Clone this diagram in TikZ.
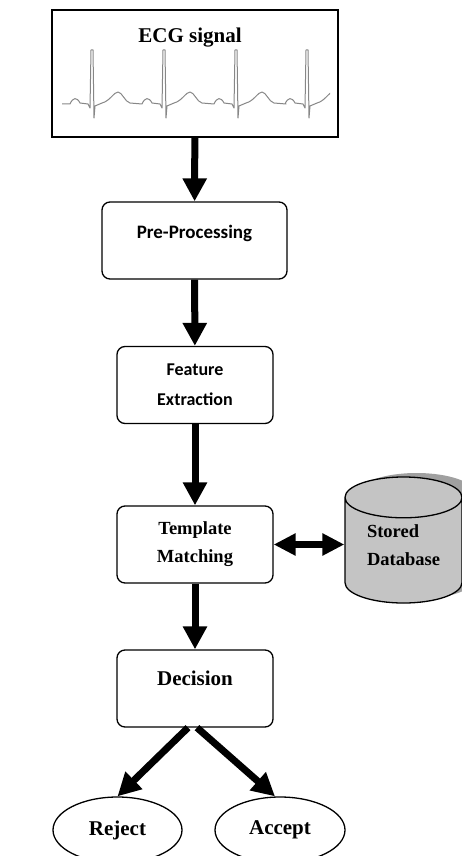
\documentclass[tikz,border=0pt]{standalone}
\usepackage{fontspec}
\setmainfont{Liberation Serif}
\newfontfamily\calibfont{Carlito}
\usetikzlibrary{arrows.meta,shapes.geometric,shadows}
\definecolor{dbgray}{RGB}{196,196,196}
\definecolor{dbshadow}{RGB}{160,160,160}
\definecolor{tracegray}{RGB}{135,135,135}
\begin{document}
\begin{tikzpicture}[x=1pt, y=-1pt]
\useasboundingbox (0,0) rectangle (462,856);
\clip (0,0) rectangle (462,856);
\tikzset{every node/.style={inner sep=2pt}}
\tikzset{stepbox/.style={draw, rounded corners=8pt, line width=1.3pt, minimum width=156pt, minimum height=77pt}}
\tikzset{serifbold/.style={font=\bfseries\fontsize{18.5}{28}\selectfont, align=center}}
\tikzset{sansbold/.style={font=\calibfont\bfseries\fontsize{18}{30}\selectfont, align=center}}
\tikzset{endstate/.style={ellipse, draw, line width=1.3pt, minimum width=129pt, minimum height=66pt, font=\bfseries\fontsize{21}{25}\selectfont}}
\tikzset{flowarrow/.style={-{Triangle[length=23pt,width=23pt]}, line width=7pt}}
\tikzset{duoarrow/.style={{Triangle[length=22pt,width=21pt]}-{Triangle[length=22pt,width=21pt]}, line width=7pt}}

\node[draw, line width=2pt, minimum width=286pt, minimum height=127pt] (ecg) at (195,73.5) {};
\node[anchor=base, font=\bfseries\fontsize{21}{25}\selectfont] (ecgtitle) at (190,43) {ECG signal};
\begin{scope}
\clip (62,40) rectangle (330,125);
\draw[tracegray, line width=1pt, line join=round] (40,104)
  \foreach \r in {92,164,236,307,379} {
    -- ({\r-22},104) .. controls ({\r-19},97) and ({\r-15},97) .. ({\r-12},103)
    -- ({\r-4},104) -- ({\r-2},108) -- ({\r-1},50) -- ({\r+1},50)
    -- ({\r+2},118) -- ({\r+3},106) -- ({\r+10},103)
    .. controls ({\r+18},101) and ({\r+22},92) .. ({\r+26},92)
    .. controls ({\r+30},92) and ({\r+33},102) .. ({\r+38},103)
    -- ({\r+50},104) };
\end{scope}

\node[stepbox, font=\calibfont\bfseries\fontsize{19}{23}\selectfont, minimum width=185pt, text height=13pt, text depth=18pt] (pre) at (194.5,240.5) {Pre-Processing};
\node[stepbox, sansbold] (fe) at (195,385) {Feature\\Extraction};
\node[stepbox, serifbold] (tm) at (195,544.5) {Template\\Matching};
\node[cylinder, shape border rotate=90, aspect=0.53, draw, line width=1.3pt, fill=dbgray,
  minimum width=117pt, minimum height=126pt, serifbold, align=left, text depth=16pt,
  general shadow={fill=dbshadow, shadow xshift=13pt, shadow yshift=4pt},
  anchor=shape center] (db) at (403.5,540) {Stored\\Database};
\node[stepbox, font=\bfseries\fontsize{21}{25}\selectfont, text height=15pt, text depth=22pt] (dec) at (195,688.5) {Decision};
\node[endstate] (rej) at (117.5,830) {Reject};
\node[endstate, minimum width=130pt] (acc) at (280,830) {Accept};

\path (ecg) edge [flowarrow] (pre);
\path (pre) edge [flowarrow] (fe);
\path (fe) edge [flowarrow] (tm);
\path (tm) edge [flowarrow] (dec);
\path (tm.east) edge [duoarrow] (tm.east -| db.west);
\path ([xshift=-7pt]dec.south) edge [flowarrow] (rej.north);
\path ([xshift=2pt]dec.south) edge [flowarrow] ([xshift=-5pt]acc.north);
\end{tikzpicture}
\end{document}
